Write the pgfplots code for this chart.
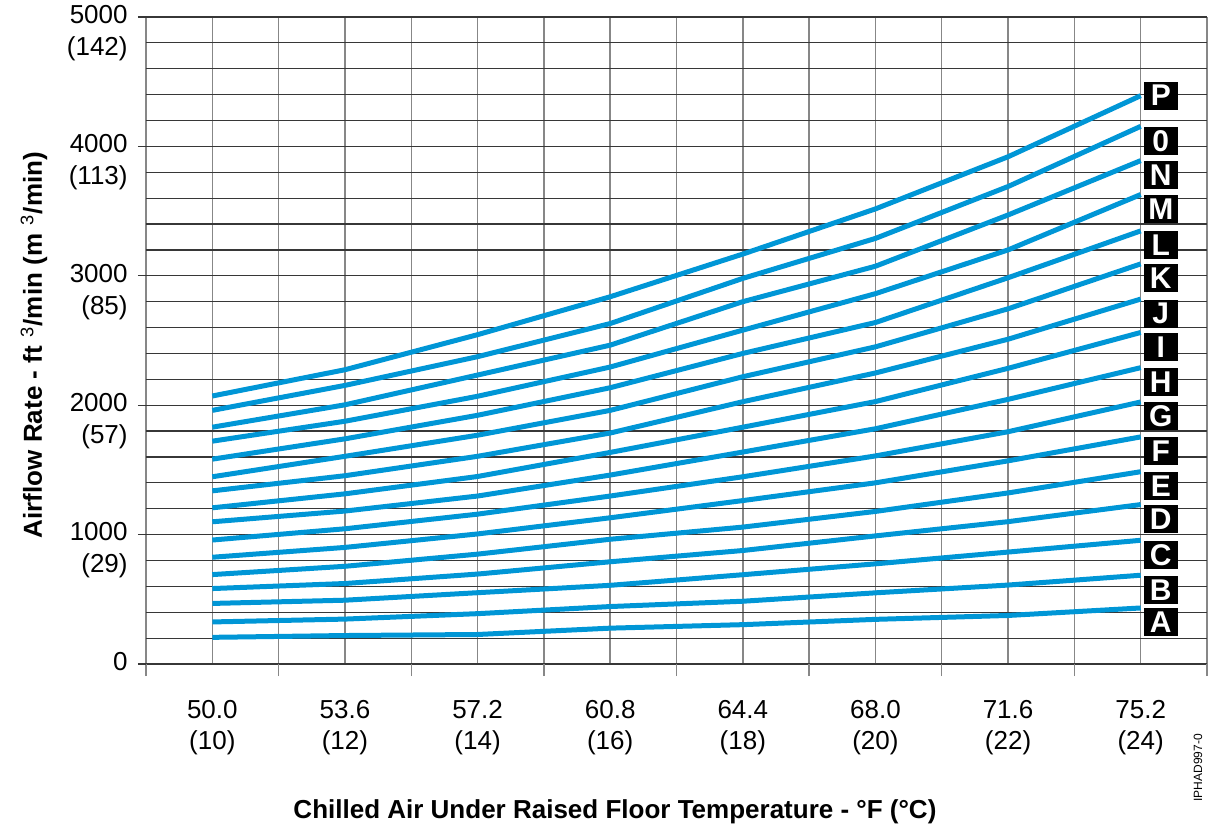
\documentclass[border=0pt]{standalone}
\usepackage{pgfplots}
\pgfplotsset{compat=1.18}
\usepackage{fontspec}
\setmainfont{Liberation Sans}
\definecolor{curve}{RGB}{0,150,214}
\definecolor{hgrid}{RGB}{55,55,55}
\definecolor{vgrid}{RGB}{135,135,135}
\tikzset{lbl/.style={fill=black, text=white, font=\fontsize{15}{15}\selectfont\bfseries,
  minimum width=17pt, minimum height=14pt, inner sep=0pt, anchor=north west, yshift=1pt, xshift=0.3pt},
  crv/.style={draw=curve, solid, line width=2.5pt, line join=round, mark=none}}
\begin{document}
\begin{tikzpicture}
\useasboundingbox (-73pt,-85pt) rectangle (531.5pt,332pt);
\begin{axis}[
  at={(0,0)}, anchor=south west,
  scale only axis, width=530.5pt, height=323.5pt,
  xmin=9, xmax=25, ymin=0, ymax=5000,
  clip mode=individual,
  axis line style={draw=none},
  tick align=outside,
  xtick pos=bottom, ytick pos=left,
  major tick length=4pt, minor tick length=6pt,
  xtick={10,12,...,24},
  xticklabels={{50.0\\(10)},{53.6\\(12)},{57.2\\(14)},{60.8\\(16)},{64.4\\(18)},{68.0\\(20)},{71.6\\(22)},{75.2\\(24)}},
  minor xtick={9,11,...,25},
  ytick={0,1000,...,5000},
  yticklabels={{0\\\phantom{(0)}},{1000\\(29)},{2000\\(57)},{3000\\(85)},{4000\\(113)},{5000\\(142)}},
  minor ytick={200,400,...,4800},
  xmajorgrids, xminorgrids, ymajorgrids, yminorgrids,
  x grid style={vgrid, line width=0.7pt},
  y grid style={hgrid, line width=0.6pt},
  major x tick style={draw=none},
  minor x tick style={vgrid, line width=0.7pt},
  minor y tick style={draw=none},
  major y tick style={hgrid, line width=0.6pt},
  xticklabel style={font=\fontsize{13}{15.5}\selectfont, align=center, anchor=north, inner sep=0pt, yshift=-14pt},
  yticklabel style={font=\fontsize{13}{16}\selectfont, align=right, anchor=east, inner sep=0pt, xshift=-5pt, yshift=-8pt},
  xlabel={Chilled Air Under Raised Floor Temperature - °F (°C)},
  xlabel style={at={(axis description cs:0.442,-0.2287)}, anchor=center, font=\fontsize{13}{15}\selectfont\bfseries},
  ylabel={Airflow Rate - ft\,\,{\mdseries\textsuperscript{3}}/min (m\,\,{\mdseries\textsuperscript{3}}/min)},
  ylabel style={at={(axis description cs:-0.1056,0.493)}, anchor=center, font=\fontsize{13}{15}\selectfont\bfseries},
]
\addplot[crv] coordinates {(10,206)(12,220)(14,228)(16,277)(18,304)(20,345)(22,375)(24,433)} node[lbl,pos=1] {A};
\addplot[crv] coordinates {(10,325)(12,347)(14,389)(16,444)(18,485)(20,550)(22,610)(24,686)} node[lbl,pos=1] {B};
\addplot[crv] coordinates {(10,468)(12,493)(14,551)(16,608)(18,690)(20,774)(22,865)(24,956)} node[lbl,pos=1] {C};
\addplot[crv] coordinates {(10,583)(12,622)(14,695)(16,790)(18,877)(20,990)(22,1100)(24,1232)} node[lbl,pos=1] {D};
\addplot[crv] coordinates {(10,691)(12,755)(14,849)(16,964)(18,1058)(20,1179)(22,1322)(24,1486)} node[lbl,pos=1] {E};
\addplot[crv] coordinates {(10,825)(12,901)(14,1005)(16,1130)(18,1263)(20,1400)(22,1570)(24,1755)} node[lbl,pos=1] {F};
\addplot[crv] coordinates {(10,958)(12,1045)(14,1158)(16,1298)(18,1447)(20,1608)(22,1795)(24,2025)} node[lbl,pos=1] {G};
\addplot[crv] coordinates {(10,1099)(12,1182)(14,1298)(16,1460)(18,1638)(20,1818)(22,2045)(24,2290)} node[lbl,pos=1] {H};
\addplot[crv] coordinates {(10,1207)(12,1315)(14,1449)(16,1635)(18,1830)(20,2028)(22,2285)(24,2562)} node[lbl,pos=1] {I};
\addplot[crv] coordinates {(10,1338)(12,1455)(14,1605)(16,1785)(18,2027)(20,2249)(22,2510)(24,2820)} node[lbl,pos=1] {J};
\addplot[crv] coordinates {(10,1447)(12,1605)(14,1768)(16,1960)(18,2220)(20,2451)(22,2745)(24,3092)} node[lbl,pos=1] {K};
\addplot[crv] coordinates {(10,1583)(12,1740)(14,1922)(16,2135)(18,2400)(20,2639)(22,2985)(24,3347)} node[lbl,pos=1] {L};
\addplot[crv] coordinates {(10,1722)(12,1876)(14,2069)(16,2295)(18,2580)(20,2862)(22,3200)(24,3628)} node[lbl,pos=1] {M};
\addplot[crv] coordinates {(10,1830)(12,2003)(14,2233)(16,2464)(18,2800)(20,3074)(22,3470)(24,3890)} node[lbl,pos=1] {N};
\addplot[crv] coordinates {(10,1960)(12,2153)(14,2375)(16,2631)(18,2980)(20,3289)(22,3690)(24,4155)} node[lbl,pos=1] {0};
\addplot[crv] coordinates {(10,2071)(12,2274)(14,2545)(16,2838)(18,3168)(20,3517)(22,3920)(24,4392)} node[lbl,pos=1,anchor=west,yshift=-1pt] {P};
\node[rotate=90, font=\fontsize{6}{7}\selectfont, inner sep=0pt] at (rel axis cs:0.9915,-0.1607) {IPHAD997-0};
\end{axis}
\end{tikzpicture}
\end{document}
